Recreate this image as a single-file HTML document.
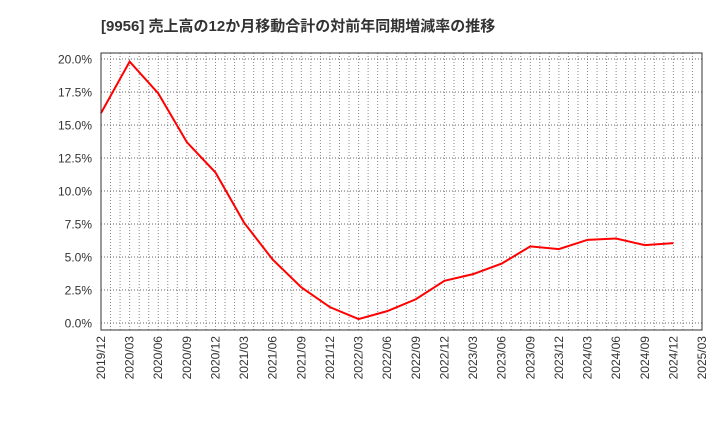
<!DOCTYPE html>
<html><head><meta charset="utf-8"><style>
body{margin:0;background:#fff;width:720px;height:440px;overflow:hidden}
text{font-family:"Liberation Sans","Noto Sans CJK JP",sans-serif}
</style></head><body>
<svg id="c" width="720" height="440" xmlns="http://www.w3.org/2000/svg">
<text x="101" y="31" font-size="15" font-weight="bold" fill="#333">[9956]  売上高の12か月移動合計の対前年同期増減率の推移</text>
<g id="grid"></g>
<g id="axes"></g>
<polyline id="line" fill="none" stroke="#f00" stroke-width="2"/>
<rect x="101" y="53" width="601" height="277" fill="none" stroke="#333" stroke-width="1"/>
</svg>
<script>
const categories=["2019/12","2020/03","2020/06","2020/09","2020/12","2021/03","2021/06","2021/09","2021/12","2022/03","2022/06","2022/09","2022/12","2023/03","2023/06","2023/09","2023/12","2024/03","2024/06","2024/09","2024/12"];
const values=[15.9,19.8,17.4,13.7,11.4,7.6,4.8,2.7,1.2,0.3,0.9,1.8,3.2,3.7,4.5,5.8,5.6,6.3,6.4,5.9,6.05];
const xTickLabels=["2019/12","2020/03","2020/06","2020/09","2020/12","2021/03","2021/06","2021/09","2021/12","2022/03","2022/06","2022/09","2022/12","2023/03","2023/06","2023/09","2023/12","2024/03","2024/06","2024/09","2024/12","2025/03"];
const yTicks=[0,2.5,5,7.5,10,12.5,15,17.5,20];
const NS="http://www.w3.org/2000/svg";
const x0=101,x1=702,qw=(x1-x0)/(xTickLabels.length-1);
const xs=i=>x0+i*qw;
const ys=v=>323-v*(264/20);
const grid=document.getElementById('grid'),axes=document.getElementById('axes');
function mk(t,a,p){const e=document.createElementNS(NS,t);for(const k in a)e.setAttribute(k,a[k]);p.appendChild(e);return e;}
for(let m=1;m<(xTickLabels.length-1)*3;m++){
 const x=x0+m*qw/3;
 const l=mk('line',{x1:x,x2:x,y1:53,y2:330,stroke:'#888','stroke-width':1,'stroke-dasharray':'1,2'},grid);
 
 
}
yTicks.forEach(v=>{
 const y=ys(v);
 const l=mk('line',{x1:x0,x2:x1,y1:y,y2:y,stroke:'#666','stroke-width':1,'stroke-dasharray':'1,2'},grid);
 
 
 const t=mk('text',{x:92,y:y+4.5,'font-size':12,fill:'#333','text-anchor':'end'},axes);
 t.textContent=v.toFixed(1)+'%';
 
 
});
xTickLabels.forEach((s,i)=>{
 const x=xs(i);
 const t=mk('text',{x:0,y:0,'font-size':12,fill:'#333','text-anchor':'end',transform:`translate(${x+4},336) rotate(-90)`},axes);
 t.textContent=s;
 
 
});
document.getElementById('line').setAttribute('points',values.map((v,i)=>xs(i)+','+ys(v)).join(' '));
</script>
</body></html>
